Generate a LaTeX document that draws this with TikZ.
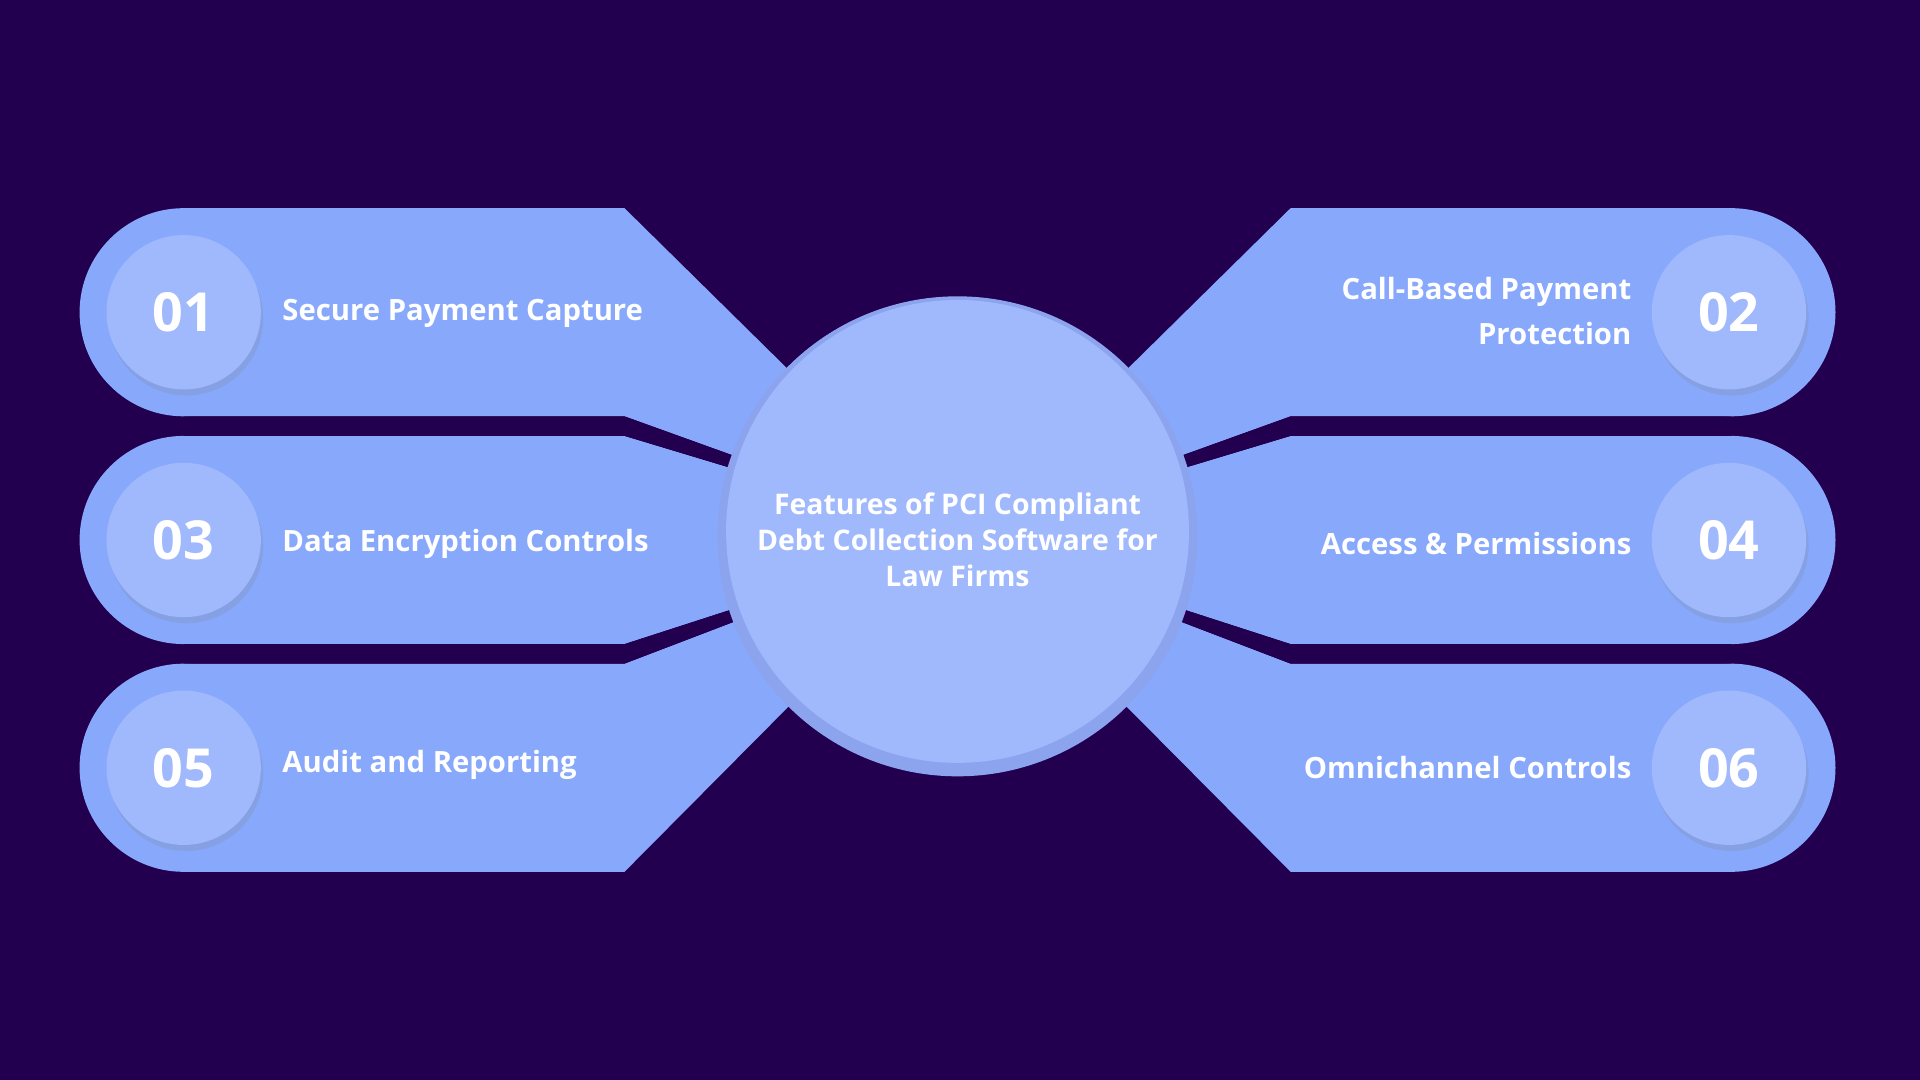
\documentclass[tikz,border=0pt]{standalone}
\usepackage{fontspec}
\setmainfont{Open Sans}
\usetikzlibrary{shadows}
\definecolor{bg}{HTML}{22004F}
\definecolor{band}{HTML}{88A8FB}
\definecolor{lite}{HTML}{A0B8FC}
\definecolor{ring}{HTML}{8CA4EE}
\begin{document}
\begin{tikzpicture}[x=0.01cm,y=-0.01cm,
 num/.style={circle,fill=lite,minimum size=1.26cm,inner sep=0,text=white,font=\bfseries\fontsize{12.5}{14}\selectfont,drop shadow={shadow xshift=0.2mm,shadow yshift=-0.5mm,opacity=0.18}},
 lab/.style={text=white,font=\bfseries\fontsize{6.8}{10.3}\selectfont,inner sep=0}]
\fill[bg] (0,0) rectangle (1568,882);
\coordinate (c) at (782,438);
\foreach \y in {255,441,627}{
  \fill[band] (150,\y) circle (85);
  \fill[band] (150,\y-85) -- (510,\y-85) -- (782,438) -- (510,\y+85) -- (150,\y+85) -- cycle;
  \fill[band] (1414,\y) circle (85);
  \fill[band] (1414,\y-85) -- (1054,\y-85) -- (782,438) -- (1054,\y+85) -- (1414,\y+85) -- cycle;
}
\foreach \y in {348,534}{
  \fill[bg] (150,\y-8) -- (510,\y-8) -- (782,438) -- (510,\y+8) -- (150,\y+8) -- cycle;
  \fill[bg] (1414,\y-8) -- (1054,\y-8) -- (782,438) -- (1054,\y+8) -- (1414,\y+8) -- cycle;
}
\fill[ring] (c) circle (196);
\fill[lite] (782,434) circle (189);
\node[lab,align=center,font=\bfseries\fontsize{6.6}{8.4}\selectfont] (ct) at (782,441) {Features of PCI Compliant\\Debt Collection Software for\\Law Firms};
\node[num] (n1) at (150,255) {01};
\node[num] (n3) at (150,441) {03};
\node[num] (n5) at (150,627) {05};
\node[num] (n2) at (1412,255) {02};
\node[num] (n4) at (1412,441) {04};
\node[num] (n6) at (1412,627) {06};
\node[lab,anchor=west] (l1) at (230,256) {Secure Payment Capture};
\node[lab,anchor=west] (l3) at (230,444) {Data Encryption Controls};
\node[lab,anchor=west] (l5) at (230,625) {Audit and Reporting};
\node[lab,anchor=east,align=right] (l2) at (1333,254) {Call-Based Payment\\Protection};
\node[lab,anchor=east] (l4) at (1333,444) {Access \& Permissions};
\node[lab,anchor=east] (l6) at (1333,627) {Omnichannel Controls};
\end{tikzpicture}
\end{document}
